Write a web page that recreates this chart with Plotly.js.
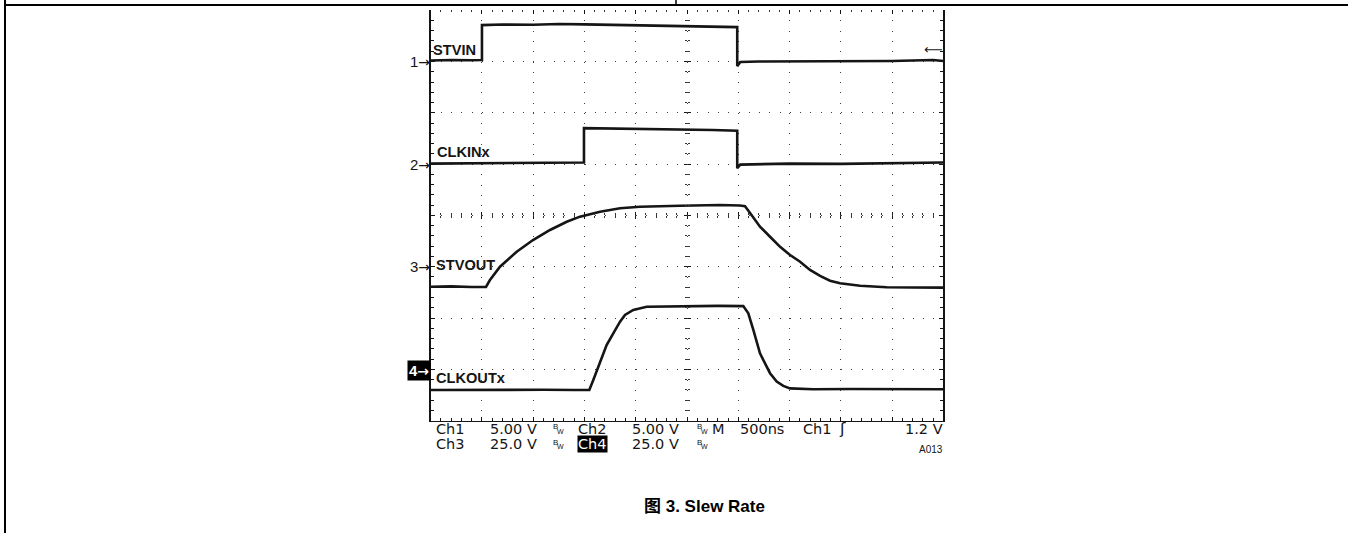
<!DOCTYPE html>
<html><head><meta charset="utf-8">
<script src="https://cdn.plot.ly/plotly-3.0.1.min.js"></script>
<style>html,body{margin:0;padding:0;background:#fff;overflow:hidden}#chart{width:1348px;height:533px}</style>
</head><body><div id="chart"></div>
<script>
// ---- data (time in ns from trigger, volts) ----
const ch1Time  = [-500, -300, -100, 0, 0, 200, 500, 750, 1000, 1250, 1500, 1750, 2000, 2250, 2490, 2490, 2520, 2700, 3000, 3500, 4000, 4400, 4500];
const ch1Volts = [0.10, 0.15, 0.12, 0.15, 3.55, 3.60, 3.58, 3.65, 3.62, 3.58, 3.52, 3.48, 3.45, 3.40, 3.35, -0.45, -0.05, 0.00, 0.02, 0.00, 0.05, 0.15, 0.05];

const ch2Time  = [-500, -200, 200, 500, 800, 995, 995, 1200, 1500, 1750, 2000, 2250, 2490, 2490, 2520, 2700, 3000, 3500, 4000, 4500];
const ch2Volts = [0.05, 0.08, 0.05, 0.10, 0.12, 0.15, 3.50, 3.48, 3.45, 3.42, 3.38, 3.32, 3.25, -0.40, -0.05, 0.00, 0.05, 0.02, 0.05, 0.15];

const ch3Time  = [-500, -300, -100, 39, 78, 176, 339, 498, 664, 827, 956, 1152, 1347, 1542, 1932, 2322, 2517, 2566, 2615, 2712, 2810, 2908, 3005, 3103, 3200, 3298, 3395, 3493, 3688, 3948, 4200, 4500];
const ch3Volts = [-9.8, -9.6, -9.9, -9.9, -6.5, 0.0, 7.3, 13.0, 17.9, 21.9, 24.4, 26.8, 28.5, 29.2, 29.7, 30.1, 29.8, 29.5, 26.2, 19.5, 14.6, 9.7, 5.7, 2.4, -1.6, -4.5, -6.8, -8.1, -9.3, -10.0, -10.1, -10.2];

const ch4Time  = [-500, -200, 200, 600, 900, 1047, 1086, 1151, 1216, 1281, 1347, 1395, 1476, 1607, 1932, 2300, 2549, 2598, 2647, 2712, 2761, 2810, 2875, 2939, 3005, 3232, 3600, 4000, 4500];
const ch4Volts = [-10.1, -10.0, -10.2, -10.0, -10.1, -10.1, -5.2, 3.7, 11.8, 17.5, 23.2, 26.5, 28.9, 30.5, 30.8, 30.9, 30.8, 27.3, 19.2, 7.8, 2.9, -1.9, -6.0, -8.1, -9.3, -9.7, -9.6, -9.8, -9.7];

const channelNames       = ['STVIN', 'CLKINx', 'STVOUT', 'CLKOUTx'];
const channelNumbers     = ['1', '2', '3', '4'];
const channelVoltsPerDiv = [5, 5, 25, 25];
const channelGroundDiv   = [7, 5, 3, 1];
const triggerLevel = 1.2;    // V on Ch1
const timePerDiv = 500;      // ns
const timeStart = -500;      // ns at left edge
const horizDivs = 10, vertDivs = 8;

const footerRow1 = ['Ch1', '5.00 V', 'Ch2', '5.00 V', 'M', '500ns', 'Ch1', '1.2 V'];
const footerRow2 = ['Ch3', '25.0 V', 'Ch4', '25.0 V'];
const figureLabel = 'A013';
const captionText = '图 3. Slew Rate';

// ---- layout helpers (page pixels -> paper fractions; margins are 0) ----
const W = 1348, H = 533;
const P = x => x / W, Q = y => 1 - y / H;
const plotL = 430.7, plotR = 943.3, plotT = 10.2, plotB = 420.6;
const xDom = [P(plotL), P(plotR)], yDom = [Q(plotB), Q(plotT)];
const xCenter = (xDom[0] + xDom[1]) / 2, yCenter = (yDom[0] + yDom[1]) / 2;
const divH = (plotB - plotT) / vertDivs;

const ink = '#151515';
const tRange = [timeStart, timeStart + horizDivs * timePerDiv];
const times = [ch1Time, ch2Time, ch3Time, ch4Time];
const volts = [ch1Volts, ch2Volts, ch3Volts, ch4Volts];

const traces = [{x: [], y: [], xaxis: 'x', yaxis: 'y', mode: 'lines', showlegend: false, hoverinfo: 'skip'}];
['x2', 'x3', 'x4'].forEach(a => traces.push({x: [], y: [], xaxis: a, yaxis: 'y', mode: 'lines', showlegend: false, hoverinfo: 'skip'}));
['y6', 'y7'].forEach(a => traces.push({x: [], y: [], xaxis: 'x', yaxis: a, mode: 'lines', showlegend: false, hoverinfo: 'skip'}));
for (let i = 0; i < 4; i++) {
  traces.push({
    x: times[i], y: volts[i], type: 'scatter', mode: 'lines',
    xaxis: 'x', yaxis: 'y' + (i + 2), name: channelNames[i],
    line: {color: ink, width: 2.6, shape: 'linear'}, hoverinfo: 'skip', showlegend: false
  });
}

const gridDash = '1px,' + (divH / 5 - 1).toFixed(2) + 'px';
const tickAxisX = (extra) => Object.assign({
  range: tRange, domain: xDom, overlaying: 'x', showgrid: false, zeroline: false,
  showticklabels: false, showline: false, ticks: 'inside', ticklen: 3, tickwidth: 1, tickcolor: ink,
  tick0: timeStart, dtick: timePerDiv,
  minor: {tick0: timeStart, dtick: timePerDiv / 5, ticks: 'inside', ticklen: 2, tickwidth: 1, tickcolor: '#333', showgrid: false}
}, extra);
const tickAxisY = (extra) => Object.assign({
  range: [0, vertDivs], domain: yDom, overlaying: 'y', showgrid: false, zeroline: false,
  showticklabels: false, showline: false, ticks: 'inside', ticklen: 3, tickwidth: 1, tickcolor: ink,
  tick0: 0, dtick: 1,
  minor: {tick0: 0, dtick: 0.2, ticks: 'inside', ticklen: 2, tickwidth: 1, tickcolor: '#333', showgrid: false}
}, extra);

const layout = {
  width: W, height: H,
  margin: {l: 0, r: 0, t: 0, b: 0, pad: 0},
  paper_bgcolor: '#fff', plot_bgcolor: '#fff',
  showlegend: false,
  xaxis: {
    range: tRange, domain: xDom, anchor: 'y',
    showgrid: true, gridcolor: '#404040', gridwidth: 1, griddash: gridDash,
    tick0: timeStart, dtick: timePerDiv, zeroline: false, showticklabels: false,
    showline: true, linecolor: ink, linewidth: 1.6, mirror: false,
    ticks: 'inside', ticklen: 4, tickcolor: ink,
    minor: {tick0: timeStart, dtick: timePerDiv / 5, ticks: 'inside', ticklen: 3, tickcolor: ink, showgrid: false}
  },
  xaxis2: tickAxisX({anchor: 'y', side: 'top', ticklen: 4}),
  xaxis3: tickAxisX({anchor: 'free', position: yCenter, side: 'bottom'}),
  xaxis4: tickAxisX({anchor: 'free', position: yCenter, side: 'top'}),
  yaxis: {
    range: [0, vertDivs], domain: yDom, anchor: 'x',
    showgrid: true, gridcolor: '#404040', gridwidth: 1, griddash: gridDash,
    tick0: 0, dtick: 1, zeroline: false, showticklabels: false,
    showline: true, linecolor: ink, linewidth: 1.6, mirror: 'ticks',
    ticks: 'inside', ticklen: 4, tickcolor: ink,
    minor: {tick0: 0, dtick: 0.2, ticks: 'inside', ticklen: 3, tickcolor: ink, showgrid: false}
  },
  yaxis6: tickAxisY({anchor: 'free', position: xCenter, side: 'left'}),
  yaxis7: tickAxisY({anchor: 'free', position: xCenter, side: 'right'}),
  shapes: [
    {type: 'line', xref: 'paper', yref: 'paper', x0: P(5), x1: 1, y0: Q(5), y1: Q(5), line: {color: '#000', width: 2}},
    {type: 'line', xref: 'paper', yref: 'paper', x0: P(5), x1: P(5), y0: 1, y1: 0, line: {color: '#000', width: 2}},
    {type: 'line', xref: 'paper', yref: 'paper', x0: P(676), x1: P(676), y0: 1, y1: Q(5), line: {color: '#000', width: 1.5}}
  ],
  annotations: []
};

// channel axes: volts mapped with each channel's V/div and ground position
for (let i = 0; i < 4; i++) {
  const g = channelGroundDiv[i], v = channelVoltsPerDiv[i];
  layout['yaxis' + (i + 2)] = {
    range: [-g * v, (vertDivs - g) * v], domain: yDom, overlaying: 'y', anchor: 'x', visible: false
  };
}

const sans = 'Liberation Sans, Arial, sans-serif';
const scopeFont = 'DejaVu Sans, sans-serif';
const ann = (text, x, y, o) => layout.annotations.push(Object.assign({
  text, xref: 'paper', yref: 'paper', x: P(x), y: Q(y), showarrow: false,
  xanchor: 'left', yanchor: 'middle', borderpad: 0, font: {family: sans, size: 14, color: ink}
}, o || {}));

// trace labels
const labelPos = [[432, 50], [436, 152], [435, 265], [435, 378]];
channelNames.forEach((n, i) => ann('<b>' + n + '</b>', labelPos[i][0], labelPos[i][1], {font: {family: sans, size: 14.6, color: ink}}));

// ground markers (channel number + arrow)
const arrowSpan = s => '<span style="font-family:DejaVu Sans;font-size:14px">' + s + '</span>';
channelNumbers.forEach((m, i) => {
  const y = plotB - channelGroundDiv[i] * divH;
  const txt = m + arrowSpan('→');
  if (i < 3) ann(txt, 431, y, {xanchor: 'right', font: {family: sans, size: 15, color: ink}});
  else ann('<b>' + txt + '</b>', 431, y + 1, {xanchor: 'right', font: {family: sans, size: 15, color: '#fff'}, bgcolor: '#000', borderpad: 1});
});
// trigger level arrow
ann('⟵', 944, plotB - (channelGroundDiv[0] + triggerLevel / channelVoltsPerDiv[0]) * divH, {xanchor: 'right', font: {family: scopeFont, size: 13, color: ink}});

// footer readout
const row1X = [435, 489, 577, 631, 711, 739, 802, 944];
const row2X = [435, 489, 577, 631];
const r1y = 428.5, r2y = 444;
footerRow1.forEach((t, i) => ann(t, row1X[i], r1y, {xanchor: i === 7 ? 'right' : 'left', font: {family: scopeFont, size: 14.5, color: ink}}));
footerRow2.forEach((t, i) => ann(t, row2X[i], r2y, i === 2
  ? {font: {family: scopeFont, size: 14.5, color: '#fff'}, bgcolor: '#000'}
  : {font: {family: scopeFont, size: 14.5, color: ink}}));
// bandwidth-limit glyphs (small B with W below-right)
[[552, r1y], [696, r1y], [552, r2y], [696, r2y]].forEach(p => {
  ann('B', p[0], p[1] - 2, {font: {family: sans, size: 8, color: ink}});
  ann('W', p[0] + 3.5, p[1] + 2.5, {font: {family: sans, size: 7, color: ink}});
});
// trigger slope glyph
ann('ʃ', 838, r1y, {font: {family: scopeFont, size: 16, color: ink}});
ann(figureLabel, 944, 449, {xanchor: 'right', font: {family: sans, size: 10, color: ink}});

// caption
ann('<b>' + captionText + '</b>', 704, 506, {xanchor: 'center', font: {family: 'Liberation Sans, Noto Sans CJK SC, sans-serif', size: 17, color: '#000'}});

Plotly.newPlot('chart', traces, layout, {staticPlot: true, displayModeBar: false});
</script>
</body></html>
